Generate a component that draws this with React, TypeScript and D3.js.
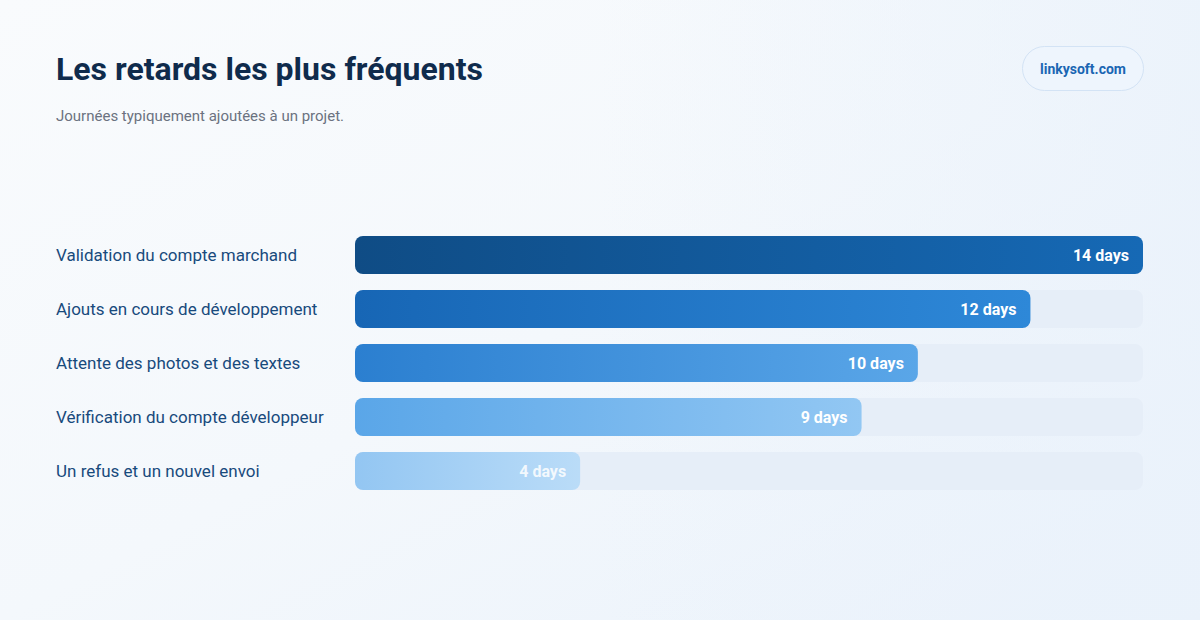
import React from "react";
import * as d3 from "d3";

const categories = [
  "Validation du compte marchand",
  "Ajouts en cours de développement",
  "Attente des photos et des textes",
  "Vérification du compte développeur",
  "Un refus et un nouvel envoi",
];
const values = [14, 12, 10, 9, 4];
const valueLabels = ["14 days", "12 days", "10 days", "9 days", "4 days"];
const gradStops: [string, string][] = [
  ["#0f4c85", "#1669b5"],
  ["#1766b5", "#2e88d8"],
  ["#2b7fd0", "#5aa6e8"],
  ["#5aa6e8", "#92c7f3"],
  ["#93c6f2", "#badcf8"],
];

const W = 1200;
const H = 620;
const FONT = "Roboto, 'Noto Sans', sans-serif";

export default function App() {
  const x = d3.scaleLinear().domain([0, 14]).range([355, 1143]);
  const y = d3
    .scaleBand<string>()
    .domain(categories)
    .range([236, 490])
    .paddingInner(16 / 54)
    .paddingOuter(0);
  const bh = y.bandwidth();

  return (
    <div style={{ position: "fixed", left: 0, top: 0, width: W, height: H }}>
      <svg width={W} height={H} style={{ display: "block" }}>
        <defs>
          <linearGradient id="bg" x1="0" y1="0" x2="1" y2="1">
            <stop offset="0" stopColor="#f9fbfd" />
            <stop offset="0.5" stopColor="#f4f8fc" />
            <stop offset="1" stopColor="#eaf2fb" />
          </linearGradient>
          <linearGradient id="bg2" x1="0" y1="0" x2="1" y2="0">
            <stop offset="0.5" stopColor="#eaf2fb" stopOpacity="0" />
            <stop offset="1" stopColor="#eaf2fb" stopOpacity="0.8" />
          </linearGradient>
          {gradStops.map((g, i) => (
            <linearGradient key={i} id={`g${i}`} x1="0" y1="0" x2="1" y2="0">
              <stop offset="0" stopColor={g[0]} />
              <stop offset="1" stopColor={g[1]} />
            </linearGradient>
          ))}
        </defs>
        <rect width={W} height={H} fill="url(#bg)" />
        <rect width={W} height={H} fill="url(#bg2)" />

        <text
          x={56}
          y={80}
          fontFamily={FONT}
          fontWeight={700}
          fontSize={32}
          fill="#0f2b4c"
        >
          Les retards les plus fréquents
        </text>
        <text x={56} y={121} fontFamily={FONT} fontSize={15} fill="#6b7280">
          Journées typiquement ajoutées à un projet.
        </text>

        <rect
          x={1022.5}
          y={46.5}
          width={121}
          height={44}
          rx={22}
          fill="#eef5fd"
          stroke="#d3e3f5"
        />
        <text
          x={1083}
          y={74}
          textAnchor="middle"
          fontFamily={FONT}
          fontWeight={700}
          fontSize={14}
          fill="#1a66b3"
        >
          linkysoft.com
        </text>

        {categories.map((c, i) => {
          const yy = y(c)!;
          const xe = x(values[i]);
          return (
            <g key={c}>
              <text
                x={56}
                y={yy + bh / 2 + 6}
                fontFamily={FONT}
                fontSize={17}
                fill="#184a7c"
              >
                {c}
              </text>
              <rect
                x={x(0)}
                y={yy}
                width={x(14) - x(0)}
                height={bh}
                rx={8}
                fill="#e6eef8"
              />
              <rect
                x={x(0)}
                y={yy}
                width={xe - x(0)}
                height={bh}
                rx={8}
                fill={`url(#g${i})`}
              />
              <text
                x={xe - 14}
                y={yy + bh / 2 + 6}
                textAnchor="end"
                fontFamily={FONT}
                fontWeight={700}
                fontSize={16}
                fill="#ffffff"
                fillOpacity={i === 4 ? 0.85 : 1}
              >
                {valueLabels[i]}
              </text>
            </g>
          );
        })}
      </svg>
    </div>
  );
}
